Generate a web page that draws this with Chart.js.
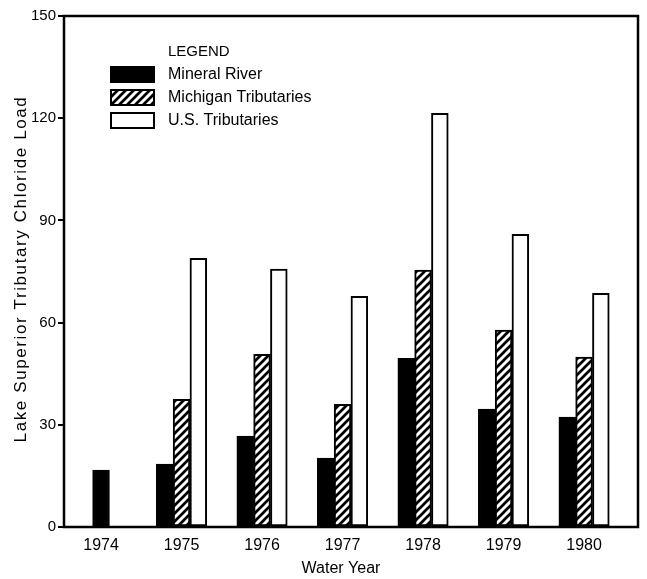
<!DOCTYPE html>
<html>
<head>
<meta charset="utf-8">
<script src="https://cdn.jsdelivr.net/npm/chart.js@4/dist/chart.umd.min.js"></script>
<style>
  html, body { margin: 0; padding: 0; background: #fff; }
  #wrap { width: 647px; height: 579px; }
</style>
</head>
<body>
<div id="wrap"><canvas id="chloride" width="647" height="579"></canvas></div>
<script>
// DATA

const years = [1974, 1975, 1976, 1977, 1978, 1979, 1980];

const mineralRiver = [16.7, 18.5, 26.7, 20.2, 49.5, 34.6, 32.3];

const michiganTribs = [null, 37.5, 50.7, 36.0, 75.4, 57.8, 49.9];

const usTribs = [null, 78.9, 75.7, 67.7, 121.4, 85.9, 68.6];

const yTicks = [0, 30, 60, 90, 120, 150];

const FONT = '"Liberation Sans", Arial, Helvetica, sans-serif';


// HATCH PATTERN  ( //// )

function makeHatch() {
  const c = document.createElement("canvas");
  c.width = 8;
  c.height = 8;
  const g = c.getContext("2d");
  g.fillStyle = "#fff";
  g.fillRect(0, 0, 8, 8);
  g.strokeStyle = "#000";
  g.lineWidth = 2.7;
  g.beginPath();
  g.moveTo(-1, 9); g.lineTo(9, -1);
  g.moveTo(-1, 1); g.lineTo(1, -1);
  g.moveTo(7, 9); g.lineTo(9, 7);
  g.stroke();
  return g.createPattern(c, "repeat");
}

const hatch = makeHatch();

function points(values) {
  return years.map((yr, i) => ({ x: yr, y: values[i] }));
}


// FRAME, TITLES AND LEGEND

const decorPlugin = {
  id: "decor",
  afterDraw(chart) {
    const ctx = chart.ctx;
    const a = chart.chartArea;
    ctx.save();

    // box round the plot
    ctx.strokeStyle = "#000";
    ctx.lineWidth = 2.5;
    ctx.strokeRect(a.left, a.top, a.right - a.left, a.bottom - a.top);

    ctx.fillStyle = "#000";
    ctx.textBaseline = "middle";

    // x title
    ctx.textAlign = "center";
    ctx.font = "16px " + FONT;
    ctx.fillText("Water Year", 341, 569);

    // y title
    ctx.save();
    ctx.translate(21, 269);
    ctx.rotate(-Math.PI / 2);
    ctx.font = "17px " + FONT;
    ctx.letterSpacing = "1.6px";
    ctx.fillText("Lake Superior Tributary Chloride Load", 0, 0);
    ctx.restore();

    // legend
    ctx.textAlign = "left";
    ctx.font = "15px " + FONT;
    ctx.fillText("LEGEND", 168, 52);
    ctx.font = "16px " + FONT;
    chart.data.datasets.forEach((ds, i) => {
      const y = 66 + i * 23;
      ctx.fillStyle = ds.backgroundColor;
      ctx.fillRect(110, y, 45, 17);
      ctx.lineWidth = 2;
      ctx.strokeStyle = "#000";
      ctx.strokeRect(111, y + 1, 43, 15);
      ctx.fillStyle = "#000";
      ctx.fillText(ds.label, 168, y + 9);
    });

    ctx.restore();
  }
};


// CHART

const barStyle = {
  borderColor: "#000",
  borderWidth: 2,
  borderSkipped: false,
  barThickness: 16.8,
  skipNull: true
};

new Chart(document.getElementById("chloride"), {
  type: "bar",
  data: {
    datasets: [
      { label: "Mineral River", data: points(mineralRiver), backgroundColor: "#000", ...barStyle },
      { label: "Michigan Tributaries", data: points(michiganTribs), backgroundColor: hatch, ...barStyle },
      { label: "U.S. Tributaries", data: points(usTribs), backgroundColor: "#fff", ...barStyle }
    ]
  },
  options: {
    responsive: false,
    animation: false,
    layout: {
      padding: { left: 0, right: 9, top: 16, bottom: 0 }
    },
    plugins: {
      legend: { display: false },
      tooltip: { enabled: false }
    },
    scales: {
      x: {
        type: "linear",
        offset: false,
        min: 1973.54,
        max: 1980.67,
        afterFit: s => { s.height = 52; },
        grid: { display: false },
        border: { display: false },
        ticks: {
          stepSize: 1,
          includeBounds: false,
          autoSkip: false,
          maxRotation: 0,
          padding: 1,
          color: "#000",
          font: { family: FONT, size: 16 },
          callback: v => years.includes(v) ? String(v) : ""
        }
      },
      y: {
        min: 0,
        max: 150,
        afterFit: s => { s.width = 64; },
        afterBuildTicks: s => { s.ticks = yTicks.map(v => ({ value: v })); },
        grid: {
          drawOnChartArea: false,
          color: "#000",
          lineWidth: 2,
          tickLength: 6
        },
        border: { display: false },
        ticks: {
          padding: 2,
          color: "#000",
          font: { family: FONT, size: 15 }
        }
      }
    }
  },
  plugins: [decorPlugin]
});
</script>
</body>
</html>
